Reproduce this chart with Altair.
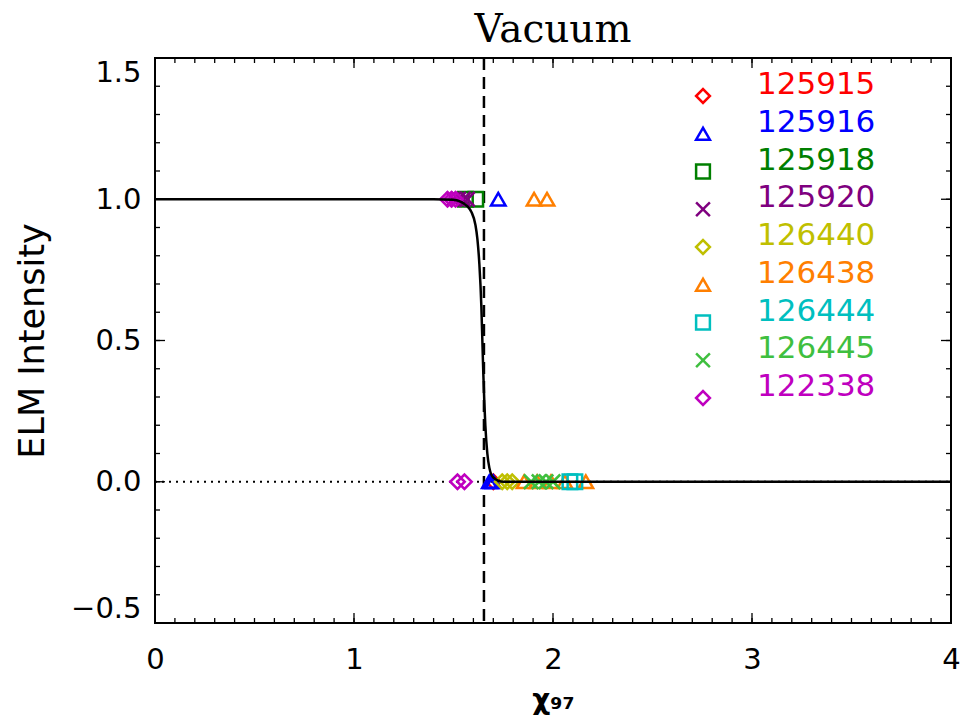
import altair as alt
import pandas as pd

# ---------------- data ----------------
title_text = ["Vacuum"]
series = ["125915", "125916", "125918", "125920", "126440",
          "126438", "126444", "126445", "122338"]
colors = ["#FF0000", "#0000FF", "#007F00", "#7F007F", "#BFBF00",
          "#FF7F00", "#00BFBF", "#3FBF3F", "#BF00BF"]
X_PATH = "M-1,-1L1,1M-1,1L1,-1"
shapes = ["diamond", "triangle-up", "square", X_PATH, "diamond",
          "triangle-up", "square", X_PATH, "diamond"]

# chi_97 of shots with ELMs present (intensity 1)
elm_on_x = {
    "125915": [],
    "125916": [1.725],
    "125918": [1.56, 1.612],
    "125920": [1.50, 1.525, 1.55, 1.57],
    "126440": [],
    "126438": [1.905, 1.97],
    "126444": [],
    "126445": [],
    "122338": [1.47, 1.49, 1.51],
}
# chi_97 of shots with ELMs suppressed (intensity 0)
elm_off_x = {
    "125915": [1.70],
    "125916": [1.68, 1.69, 1.70],
    "125918": [],
    "125920": [],
    "126440": [1.745, 1.77, 1.795],
    "126438": [1.855, 1.92, 1.99, 2.06, 2.165],
    "126444": [2.085, 2.11],
    "126445": [1.89, 1.93, 1.965, 2.0],
    "122338": [1.52, 1.555],
}

# fitted step curve
curve_x = [0.0, 1.40, 1.50, 1.54, 1.57, 1.59, 1.61, 1.62, 1.63, 1.64,
           1.645, 1.65, 1.655, 1.66, 1.67, 1.68, 1.70, 1.75, 4.0]
curve_y = [1.0, 1.0, 0.998, 0.99, 0.975, 0.955, 0.91, 0.86, 0.77, 0.62,
           0.50, 0.38, 0.28, 0.20, 0.10, 0.05, 0.015, 0.0, 0.0]

threshold = [1.653]
zero_line = {"x": [0.0], "x2": [4.0], "y": [0.0]}

x_ticks_major = [0, 1, 2, 3, 4]
y_ticks_major = [-0.5, 0.0, 0.5, 1.0, 1.5]
x_ticks_minor = [round(i * 0.1, 1) for i in range(41)]
y_ticks_minor = [round(-0.5 + i * 0.1, 1) for i in range(21)]

# ---------------- chart ----------------
W, H = 796, 565
FONT = "DejaVu Sans"

rows = []
for s in series:
    for v in elm_on_x[s]:
        rows.append({"series": s, "x": v, "y": 1.0})
    for v in elm_off_x[s]:
        rows.append({"series": s, "x": v, "y": 0.0})
pts = pd.DataFrame(rows)

xs = alt.Scale(domain=[0, 4], nice=False, zero=False)
ys = alt.Scale(domain=[-0.5, 1.5], nice=False, zero=False)
color_scale = alt.Scale(domain=series, range=colors)
shape_scale = alt.Scale(domain=series, range=shapes)

x_axis = alt.Axis(values=x_ticks_major, format="d", ticks=False, tickSize=0,
                  domain=False, grid=False, labelFont=FONT, labelFontSize=29,
                  labelPadding=22, labelFlush=False, labelColor="black",
                  title="χ₉₇", titleFont=FONT, titleFontSize=28,
                  titleFontWeight="bold", titlePadding=12, titleColor="black")
y_axis = alt.Axis(values=y_ticks_major, format=".1f", ticks=False, tickSize=0,
                  domain=False, grid=False, labelFont=FONT, labelFontSize=29,
                  labelPadding=14, labelColor="black", labelFlush=True,
                  title="ELM Intensity", titleFont=FONT, titleFontSize=35,
                  titleFontWeight="normal", titlePadding=20, titleColor="black")


def X(field):
    return alt.X(field, scale=xs, axis=x_axis)


def Y(field):
    return alt.Y(field, scale=ys, axis=y_axis)


curve = alt.Chart(pd.DataFrame({"x": curve_x, "y": curve_y})).mark_line(
    color="black", strokeWidth=2.5, interpolate="monotone"
).encode(x=X("x:Q"), y=Y("y:Q"))

zero = alt.Chart(pd.DataFrame(zero_line)).mark_rule(
    color="black", strokeWidth=2, strokeDash=[2, 5]
).encode(x=X("x:Q"), x2="x2:Q", y=Y("y:Q"))

vline = alt.Chart(pd.DataFrame({"x": threshold})).mark_rule(
    color="black", strokeWidth=2.5, strokeDash=[12, 7]
).encode(x=X("x:Q"))

points = alt.Chart(pts).mark_point(filled=False, size=210, strokeWidth=2.5, opacity=1).encode(
    x=X("x:Q"), y=Y("y:Q"),
    color=alt.Color("series:N", scale=color_scale, legend=None),
    shape=alt.Shape("series:N", scale=shape_scale, legend=None),
)


def xticks(vals, length, top):
    y0, y1 = (0, length) if top else (H, H - length)
    return alt.Chart(pd.DataFrame({"x": vals})).mark_rule(
        color="black", strokeWidth=1.3
    ).encode(x=X("x:Q"), y=alt.value(y0), y2=alt.value(y1))


def yticks(vals, length, right):
    x0, x1 = (W, W - length) if right else (0, length)
    return alt.Chart(pd.DataFrame({"y": vals})).mark_rule(
        color="black", strokeWidth=1.3
    ).encode(y=Y("y:Q"), x=alt.value(x0), x2=alt.value(x1))


tick_layers = [
    xticks(x_ticks_minor, 5, False), xticks(x_ticks_minor, 5, True),
    xticks(x_ticks_major, 10, False), xticks(x_ticks_major, 10, True),
    yticks(y_ticks_minor, 5, False), yticks(y_ticks_minor, 5, True),
    yticks(y_ticks_major, 10, False), yticks(y_ticks_major, 10, True),
]

main = alt.layer(zero, vline, *tick_layers, points, curve)

leg = pd.DataFrame({"series": series})
leg_y = alt.Y("series:N", sort=series, axis=None,
              scale=alt.Scale(type="point", domain=series, range=[38, 340], padding=0))
leg_sym = alt.Chart(leg).mark_point(filled=False, size=190, strokeWidth=2.5, opacity=1).encode(
    x=alt.value(548), y=leg_y,
    color=alt.Color("series:N", scale=color_scale, legend=None),
    shape=alt.Shape("series:N", scale=shape_scale, legend=None),
)
leg_txt = alt.Chart(leg).mark_text(align="left", baseline="middle", font=FONT,
                                   fontSize=31, dy=-11).encode(
    x=alt.value(602), y=leg_y, text="series:N",
    color=alt.Color("series:N", scale=color_scale, legend=None),
)

title_mark = alt.Chart(pd.DataFrame({"t": title_text})).mark_text(
    font="DejaVu Serif", fontSize=39, align="center", baseline="alphabetic", color="black"
).encode(x=alt.value(W / 2), y=alt.value(-16), text="t:N")

legend = alt.layer(leg_sym, leg_txt)

chart = alt.layer(main, legend, title_mark).resolve_scale(y="independent").properties(
    width=W, height=H,
    autosize=alt.AutoSizeParams(type="none"),
    padding={"left": 155, "top": 58, "right": 9, "bottom": 101},
    background="white",
).configure_view(stroke="black", strokeWidth=2)

chart.save("out.html", embed_options={"renderer": "svg", "actions": False})
